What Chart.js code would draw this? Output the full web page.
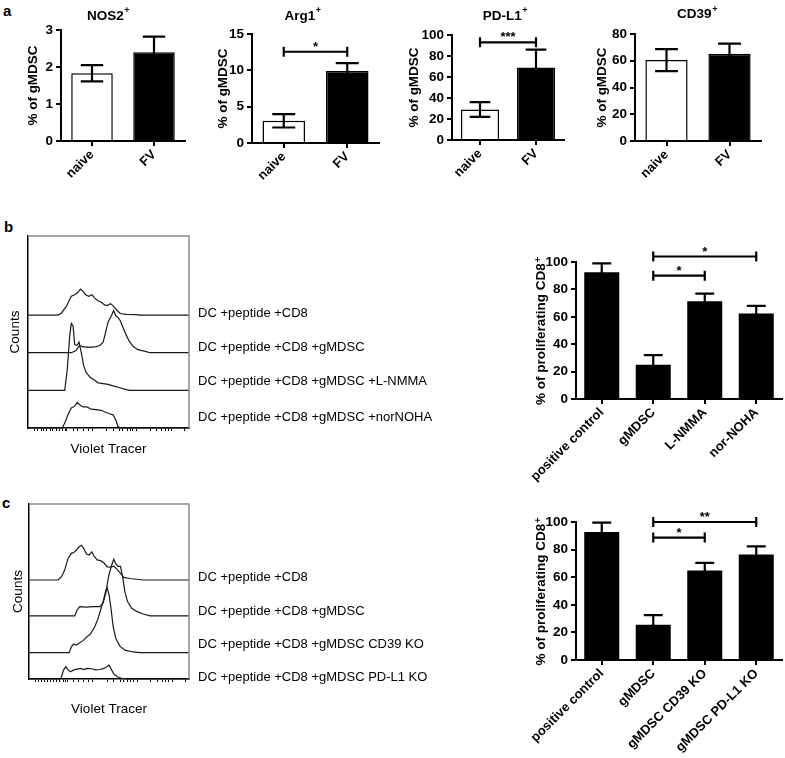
<!DOCTYPE html>
<html><head><meta charset="utf-8">
<script src="https://cdn.jsdelivr.net/npm/chart.js@4"></script>
<style>
body{margin:0;background:#fff;width:785px;height:758px;position:relative;overflow:hidden;font-family:"Liberation Sans",Arial,sans-serif}
.pl{position:absolute;font-weight:bold;font-size:15px;line-height:15px;color:#000}
canvas{position:absolute}
</style></head><body>
<div class="pl" style="left:3px;top:3px">a</div>
<div class="pl" style="left:4px;top:219px">b</div>
<div class="pl" style="left:2px;top:495px">c</div>
<script>
// ---------- data ----------
const groupsA = ['naive', 'FV'];
const nos2Mean = [1.83, 2.40], nos2Err = [0.22, 0.42];
const arg1Mean = [3.05, 9.9],  arg1Err = [0.92, 1.1];
const pdl1Mean = [29, 69],     pdl1Err = [7, 17];
const cd39Mean = [60.5, 65.3], cd39Err = [8.2, 7.5];

const bGroups = ['positive control', 'gMDSC', 'L-NMMA', 'nor-NOHA'];
const bMean = [92.5, 25, 71.3, 62.5], bErr = [6.5, 7, 5.6, 5.5];
const cGroups = ['positive control', 'gMDSC', 'gMDSC CD39 KO', 'gMDSC PD-L1 KO'];
const cMean = [92.8, 25.5, 64.9, 76.4], cErr = [6.8, 7, 5.5, 6];

const bTraceLabels = ['DC +peptide +CD8', 'DC +peptide +CD8 +gMDSC', 'DC +peptide +CD8 +gMDSC +L-NMMA', 'DC +peptide +CD8 +gMDSC +norNOHA'];
const cTraceLabels = ['DC +peptide +CD8', 'DC +peptide +CD8 +gMDSC', 'DC +peptide +CD8 +gMDSC CD39 KO', 'DC +peptide +CD8 +gMDSC PD-L1 KO'];

// histogram traces: [violet tracer (0-100), counts (relative)]
const bTrace1 = [[0,0],[18.6,0],[20.7,0.05],[23.8,0.23],[26.9,0.50],[29.0,0.54],[30.4,0.58],[32.7,0.69],[34.2,0.63],[35.8,0.54],[37.7,0.50],[39.8,0.54],[41.4,0.45],[43.5,0.38],[45.5,0.34],[47.6,0.27],[49.1,0.25],[51.3,0.30],[52.8,0.25],[54.9,0.14],[57.3,0.04],[61.1,0.02],[67.3,0.01],[69.4,0],[100,0]];
const bTrace2 = [[0,0],[26.9,0],[29.6,0.05],[32.1,0.19],[33.7,0.16],[38.3,0.14],[42.4,0.16],[44.5,0.19],[46.6,0.27],[48.2,0.54],[49.7,0.81],[51.8,0.98],[53.2,1.12],[54.5,0.98],[55.9,0.94],[57.3,0.85],[59.0,0.67],[60.7,0.50],[62.7,0.32],[65.2,0.17],[68.3,0.08],[73.5,0.03],[75.6,0],[100,0]];
const bTrace3 = [[0,0],[22.8,0],[24.4,0.56],[25.9,1.44],[26.9,1.78],[28.0,1.71],[29.0,1.22],[30.4,1.19],[31.7,1.28],[33.1,1.00],[34.6,0.65],[36.2,0.47],[38.7,0.34],[41.4,0.27],[43.5,0.20],[46.6,0.18],[49.7,0.16],[52.8,0.12],[57.0,0.07],[61.1,0.02],[63.1,0],[100,0]];
const bTrace4 = [[0,0],[21.3,0],[22.8,0.13],[24.8,0.35],[26.9,0.53],[29.0,0.58],[30.6,0.68],[32.1,0.62],[34.2,0.56],[36.6,0.56],[39.3,0.50],[42.4,0.49],[45.5,0.47],[48.2,0.42],[50.7,0.38],[52.8,0.35],[54.5,0.22],[55.9,0.04],[57.3,0],[100,0]];

const cTrace1 = [[0,0],[18.2,0],[20.3,0.09],[22.3,0.27],[24.4,0.59],[26.5,0.73],[27.9,0.75],[29.6,0.82],[31.3,0.91],[32.8,0.95],[34.2,0.86],[35.9,0.71],[37.6,0.68],[39.2,0.77],[40.7,0.65],[42.6,0.55],[44.7,0.53],[46.8,0.47],[48.9,0.36],[50.9,0.35],[53.0,0.38],[55.1,0.29],[57.2,0.18],[59.3,0.07],[63.0,0.04],[71.4,0],[100,0]];
const cTrace2 = [[0,0],[28.6,0],[30.1,0.16],[31.7,0.25],[35.9,0.24],[40.1,0.25],[44.3,0.25],[46.3,0.35],[48.0,0.62],[49.7,1.07],[51.4,1.35],[53.0,1.55],[54.3,1.42],[55.7,1.35],[57.2,1.35],[58.5,1.07],[59.9,0.66],[61.6,0.39],[64.1,0.21],[67.2,0.12],[71.4,0.05],[75.6,0],[100,0]];
const cTrace3 = [[0,0],[25.1,0],[26.5,0.16],[27.9,0.24],[29.6,0.21],[31.7,0.27],[33.8,0.33],[36.3,0.44],[38.4,0.51],[41.1,0.71],[43.2,0.94],[45.3,1.25],[46.8,1.48],[48.0,1.71],[48.9,1.77],[50.1,1.57],[51.4,1.16],[52.6,0.71],[54.3,0.39],[56.8,0.18],[59.9,0.07],[65.1,0.02],[69.3,0],[100,0]];
const cTrace4 = [[0,0],[19.8,0],[21.7,0.25],[23.0,0.34],[24.4,0.25],[25.9,0.20],[28.0,0.25],[30.1,0.27],[32.2,0.29],[34.2,0.26],[36.3,0.29],[39.0,0.28],[41.8,0.25],[44.3,0.26],[46.8,0.29],[48.9,0.34],[50.1,0.38],[51.6,0.25],[53.0,0.14],[55.1,0.06],[57.8,0.02],[61.0,0],[100,0]];

// tracer axis tick values
const tracerTicks = [4.3,6.2,8.1,9.9,11.8,13.7,15.5,17.4,19.3,21.7,23,24.2,28,31,34.2,37.3,39.8,49,52.8,57.1,59,61.5,63.4,65.2,67.7,75.8,80.1,83.2,85.1,87,89.4,97.5];

// ---------- setup ----------
const FONT = '"Liberation Sans", Arial, "DejaVu Sans", sans-serif';
Chart.defaults.font.family = FONT;
Chart.defaults.color = '#000';

const errorBars = {
  id: 'errorBars',
  afterDatasetsDraw(chart, args, opts) {
    if (!opts.err) return;
    const ctx = chart.ctx, meta = chart.getDatasetMeta(0), y = chart.scales.y;
    const vals = chart.data.datasets[0].data;
    ctx.save(); ctx.strokeStyle = '#000'; ctx.lineWidth = 2.2;
    opts.err.forEach((e, i) => {
      const bar = meta.data[i]; const x = bar.x; const hw = bar.width * 0.27;
      const yt = y.getPixelForValue(vals[i] + e), yb = y.getPixelForValue(vals[i] - e);
      ctx.beginPath();
      ctx.moveTo(x, yt); ctx.lineTo(x, yb);
      ctx.moveTo(x - hw, yt); ctx.lineTo(x + hw, yt);
      ctx.moveTo(x - hw, yb); ctx.lineTo(x + hw, yb);
      ctx.stroke();
    });
    ctx.restore();
  }
};
const brackets = {
  id: 'brackets',
  afterDatasetsDraw(chart, args, opts) {
    if (!opts.items) return;
    const ctx = chart.ctx, xs = chart.scales.x, ys = chart.scales.y;
    ctx.save(); ctx.strokeStyle = '#000'; ctx.fillStyle = '#000'; ctx.lineWidth = 2.2;
    opts.items.forEach(b => {
      const x1 = xs.getPixelForValue(b.from), x2 = xs.getPixelForValue(b.to), y = ys.getPixelForValue(b.y);
      ctx.beginPath();
      ctx.moveTo(x1, y); ctx.lineTo(x2, y);
      ctx.moveTo(x1, y - 5); ctx.lineTo(x1, y + 5);
      ctx.moveTo(x2, y - 5); ctx.lineTo(x2, y + 5);
      ctx.stroke();
      ctx.font = 'bold 13px ' + FONT; ctx.textAlign = 'center'; ctx.textBaseline = 'alphabetic';
      ctx.fillText(b.text, (x1 + x2) / 2, y - 1);
    });
    ctx.restore();
  }
};
const topTitle = {
  id: 'topTitle',
  afterDraw(chart, args, opts) {
    if (!opts.text) return;
    const ctx = chart.ctx, ca = chart.chartArea;
    ctx.save(); ctx.fillStyle = '#000'; ctx.textBaseline = 'middle'; ctx.textAlign = 'left';
    ctx.font = 'bold 13.5px ' + FONT; const w = ctx.measureText(opts.text).width;
    ctx.font = 'bold 9px ' + FONT; const sw = ctx.measureText(opts.sup).width;
    const x0 = (ca.left + ca.right) / 2 + opts.dx - (w + sw) / 2;
    ctx.font = 'bold 13.5px ' + FONT; ctx.fillText(opts.text, x0, opts.y);
    ctx.font = 'bold 9px ' + FONT; ctx.fillText(opts.sup, x0 + w + 0.5, opts.y - 5);
    ctx.restore();
  }
};
const histDecor = {
  id: 'histDecor',
  afterDraw(chart, args, opts) {
    if (!opts.labels) return;
    const ctx = chart.ctx, ca = chart.chartArea, ys = chart.scales.y;
    ctx.save();
    ctx.strokeStyle = '#8a8a8a'; ctx.lineWidth = 1.5;
    ctx.beginPath(); ctx.moveTo(ca.left, ca.top); ctx.lineTo(ca.right, ca.top); ctx.lineTo(ca.right, ca.bottom); ctx.stroke();
    ctx.fillStyle = '#000'; ctx.font = '13px ' + FONT; ctx.textBaseline = 'middle'; ctx.textAlign = 'left';
    opts.labels.forEach((t, i) => ctx.fillText(t, ca.right + 9, ys.getPixelForValue(opts.lanes[i])));
    ctx.restore();
  }
};
Chart.register(errorBars, brackets, topTitle, histDecor);

function mk(left, top, w, h) {
  const c = document.createElement('canvas');
  c.width = w; c.height = h;
  c.style.left = left + 'px'; c.style.top = top + 'px';
  c.style.width = w + 'px'; c.style.height = h + 'px';
  document.body.appendChild(c);
  return c;
}

function barChart(p, o) {
  return new Chart(mk(p.left, p.top, p.w, p.h), {
    type: 'bar',
    data: { labels: o.labels, datasets: [{ data: o.mean, backgroundColor: o.fill, borderColor: '#000', borderWidth: o.bw, barPercentage: o.bp, categoryPercentage: 1 }] },
    options: {
      responsive: false, animation: false, devicePixelRatio: 1, events: [],
      layout: { autoPadding: false, padding: { top: p.padTop, right: p.padRight, left: 0, bottom: 0 } },
      plugins: {
        legend: { display: false }, tooltip: { enabled: false },
        errorBars: { err: o.err },
        brackets: { items: o.brackets || [] },
        topTitle: o.title || {}
      },
      scales: {
        x: {
          offset: true,
          grid: { display: true, drawOnChartArea: false, drawTicks: true, tickLength: 5, color: '#000', lineWidth: 2, offset: false },
          border: { display: true, color: '#000', width: 2 },
          ticks: { autoSkip: false, minRotation: 45, maxRotation: 45, padding: 1, color: '#000', font: { size: 13, weight: 'bold' } },
          afterFit: s => { s.height = p.xh; }
        },
        y: {
          min: 0, max: o.yMax,
          ticks: { stepSize: o.step, padding: 3, color: '#000', font: { size: 13.5, weight: 'bold' } },
          grid: { display: true, drawOnChartArea: false, drawTicks: true, tickLength: 5, color: '#000', lineWidth: 2 },
          border: { display: true, color: '#000', width: 2 },
          title: { display: true, text: o.yTitle, color: '#000', font: { size: 13.5, weight: 'bold' }, padding: { top: p.tPad, bottom: 0 } },
          afterFit: s => { s.width = p.yw; }
        }
      }
    }
  });
}

function histChart(p, o) {
  return new Chart(mk(p.left, p.top, p.w, p.h), {
    type: 'line',
    data: {
      datasets: o.traces.map((t, i) => ({
        data: t.map(pt => ({ x: pt[0], y: o.offsets[i] + pt[1] })),
        borderColor: '#1a1a1a', borderWidth: 1.2, pointRadius: 0, fill: false, tension: 0, clip: false
      }))
    },
    options: {
      responsive: false, animation: false, devicePixelRatio: 1, events: [],
      layout: { autoPadding: false, padding: { top: p.padTop, right: p.padRight, left: 0, bottom: 0 } },
      plugins: { legend: { display: false }, tooltip: { enabled: false }, histDecor: { labels: o.labels, lanes: o.lanes } },
      scales: {
        x: {
          type: 'linear', min: 0, max: 100,
          afterBuildTicks: s => { s.ticks = tracerTicks.map(v => ({ value: v })); },
          ticks: { display: false },
          grid: { display: true, drawOnChartArea: false, drawTicks: true, tickLength: 3, color: '#000', lineWidth: 1 },
          border: { display: true, color: '#000', width: 1.5 },
          title: { display: true, text: 'Violet Tracer', color: '#000', font: { size: 13.5 }, padding: { top: 0, bottom: p.xtPad } },
          afterFit: s => { s.height = p.xh; }
        },
        y: {
          min: 0, max: o.yMax,
          ticks: { display: false },
          grid: { display: false },
          border: { display: true, color: '#000', width: 1.5 },
          title: { display: true, text: 'Counts', color: '#000', font: { size: 13.5 }, padding: { top: p.ytPad, bottom: 0 } },
          afterFit: s => { s.width = p.yw; }
        }
      }
    }
  });
}

// ---------- panel a ----------
const whiteBlack = ['#ffffff', '#000000'];
barChart({ left: 25, top: 0, w: 165, h: 190, yw: 36, padTop: 30, padRight: 5, xh: 49, tPad: 0 },
  { labels: groupsA, mean: nos2Mean, err: nos2Err, fill: whiteBlack, bw: 1.5, bp: 0.67, yMax: 3, step: 1, yTitle: '% of gMDSC',
    title: { text: 'NOS2', sup: '+', dx: -15, y: 16 } });
barChart({ left: 215, top: 0, w: 169, h: 192, yw: 37, padTop: 34, padRight: 5, xh: 49, tPad: 0 },
  { labels: groupsA, mean: arg1Mean, err: arg1Err, fill: whiteBlack, bw: 1.5, bp: 0.67, yMax: 15, step: 5, yTitle: '% of gMDSC',
    title: { text: 'Arg1', sup: '+', dx: -13, y: 16 }, brackets: [{ from: 0, to: 1, y: 12.56, text: '*' }] });
barChart({ left: 406, top: 0, w: 163, h: 189, yw: 46, padTop: 35, padRight: 5, xh: 49, tPad: 0 },
  { labels: groupsA, mean: pdl1Mean, err: pdl1Err, fill: whiteBlack, bw: 1.5, bp: 0.68, yMax: 100, step: 20, yTitle: '% of gMDSC',
    title: { text: 'PD-L1', sup: '+', dx: -3, y: 16 }, brackets: [{ from: 0, to: 1, y: 93, text: '***' }] });
barChart({ left: 594, top: 0, w: 172, h: 190, yw: 41, padTop: 34, padRight: 5, xh: 49, tPad: 0 },
  { labels: groupsA, mean: cd39Mean, err: cd39Err, fill: whiteBlack, bw: 1.5, bp: 0.67, yMax: 80, step: 20, yTitle: '% of gMDSC',
    title: { text: 'CD39', sup: '+', dx: -1, y: 14.5 } });

// ---------- panel b ----------
histChart({ left: 0, top: 225, w: 470, h: 240, yw: 28, padTop: 11, padRight: 281, xh: 37, xtPad: 8, ytPad: 7 },
  { traces: [bTrace1, bTrace2, bTrace3, bTrace4], offsets: [3, 2, 1, 0], yMax: 5.1,
    labels: bTraceLabels, lanes: [3.05, 2.15, 1.25, 0.27] });
barChart({ left: 515, top: 230, w: 270, h: 256, yw: 61, padTop: 32, padRight: 3, xh: 87, tPad: 18 },
  { labels: bGroups, mean: bMean, err: bErr, fill: '#000', bw: 0, bp: 0.68, yMax: 100, step: 20, yTitle: '% of proliferating CD8\u207A',
    brackets: [{ from: 1, to: 3, y: 104, text: '*' }, { from: 1, to: 2, y: 90, text: '*' }] });

// ---------- panel c ----------
histChart({ left: 0, top: 490, w: 470, h: 240, yw: 29, padTop: 14, padRight: 281, xh: 51, xtPad: 13, ytPad: 10 },
  { traces: [cTrace1, cTrace2, cTrace3, cTrace4], offsets: [2.71, 1.73, 0.72, 0], yMax: 4.79,
    labels: cTraceLabels, lanes: [2.79, 1.86, 0.96, 0.05] });
barChart({ left: 515, top: 490, w: 270, h: 268, yw: 61, padTop: 32, padRight: 3, xh: 98, tPad: 18 },
  { labels: cGroups, mean: cMean, err: cErr, fill: '#000', bw: 0, bp: 0.68, yMax: 100, step: 20, yTitle: '% of proliferating CD8\u207A',
    brackets: [{ from: 1, to: 3, y: 100, text: '**' }, { from: 1, to: 2, y: 88.7, text: '*' }] });
</script>
</body></html>
